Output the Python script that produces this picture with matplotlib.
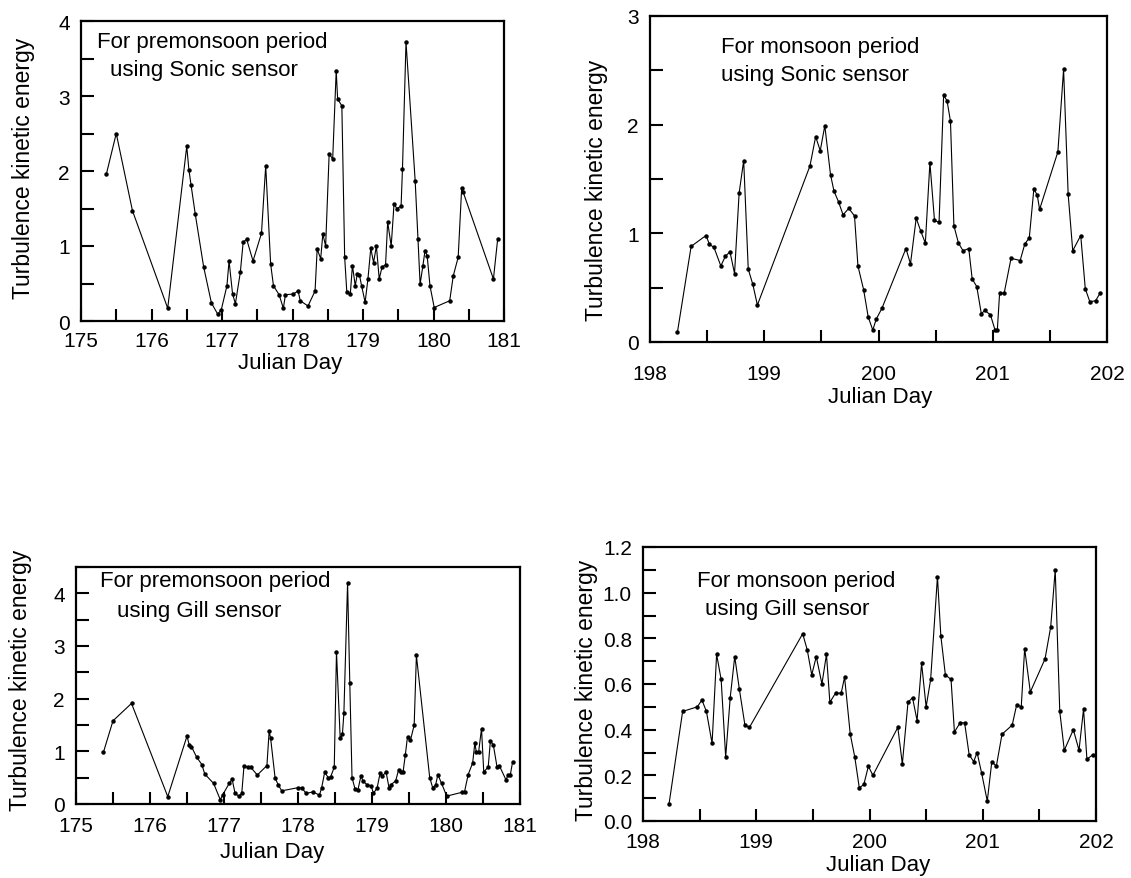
import matplotlib
matplotlib.use('Agg')
import matplotlib.pyplot as plt
from matplotlib.ticker import MultipleLocator, FormatStrFormatter

plt.rcParams['font.family'] = ['Liberation Sans', 'DejaVu Sans']

# premonsoon, Sonic sensor
pre_sonic_day = [175.36, 175.50, 175.73, 176.23, 176.50, 176.53, 176.56, 176.62, 176.74, 176.85,
                 176.94, 176.99, 177.07, 177.10, 177.15, 177.19, 177.26, 177.30, 177.35, 177.44,
                 177.56, 177.62, 177.69, 177.73, 177.81, 177.87, 177.90, 178.01, 178.08, 178.11,
                 178.22, 178.32, 178.35, 178.40, 178.43, 178.47, 178.52, 178.57, 178.62, 178.64,
                 178.70, 178.74, 178.77, 178.82, 178.85, 178.89, 178.92, 178.95, 178.98, 179.03,
                 179.07, 179.11, 179.15, 179.19, 179.23, 179.27, 179.32, 179.35, 179.40, 179.44,
                 179.48, 179.54, 179.56, 179.61, 179.74, 179.78, 179.81, 179.85, 179.88, 179.91,
                 179.95, 180.01, 180.23, 180.28, 180.35, 180.40, 180.42, 180.85, 180.91]
pre_sonic_tke = [1.96, 2.50, 1.47, 0.17, 2.33, 2.02, 1.82, 1.43, 0.72, 0.24,
                 0.09, 0.15, 0.47, 0.80, 0.36, 0.23, 0.65, 1.05, 1.09, 0.80,
                 1.17, 2.07, 0.76, 0.47, 0.35, 0.17, 0.35, 0.36, 0.40, 0.27,
                 0.20, 0.40, 0.96, 0.83, 1.16, 1.00, 2.23, 2.16, 3.34, 2.96,
                 2.87, 0.85, 0.39, 0.36, 0.74, 0.47, 0.63, 0.61, 0.47, 0.25,
                 0.56, 0.97, 0.78, 1.00, 0.56, 0.72, 0.75, 1.32, 1.00, 1.56,
                 1.50, 1.53, 2.03, 3.72, 1.87, 1.09, 0.49, 0.74, 0.94, 0.87,
                 0.47, 0.18, 0.27, 0.60, 0.85, 1.78, 1.72, 0.56, 1.09]

# monsoon, Sonic sensor
mon_sonic_day = [198.24, 198.36, 198.49, 198.52, 198.56, 198.62, 198.66, 198.70, 198.74, 198.78,
                 198.82, 198.86, 198.90, 198.94, 199.40, 199.45, 199.49, 199.53, 199.58, 199.61,
                 199.65, 199.69, 199.74, 199.79, 199.82, 199.87, 199.91, 199.95, 199.98, 200.03,
                 200.24, 200.28, 200.33, 200.37, 200.41, 200.45, 200.49, 200.53, 200.57, 200.60,
                 200.63, 200.66, 200.70, 200.74, 200.79, 200.82, 200.86, 200.90, 200.93, 200.98,
                 201.02, 201.04, 201.06, 201.10, 201.16, 201.24, 201.28, 201.32, 201.36, 201.39,
                 201.41, 201.57, 201.62, 201.66, 201.70, 201.77, 201.81, 201.85, 201.90, 201.94]
mon_sonic_tke = [0.09, 0.88, 0.98, 0.90, 0.87, 0.70, 0.79, 0.83, 0.63, 1.37,
                 1.67, 0.67, 0.53, 0.34, 1.62, 1.89, 1.76, 1.99, 1.54, 1.39,
                 1.29, 1.17, 1.23, 1.16, 0.70, 0.48, 0.23, 0.11, 0.21, 0.31,
                 0.86, 0.72, 1.14, 1.02, 0.91, 1.65, 1.12, 1.10, 2.27, 2.22,
                 2.03, 1.07, 0.91, 0.84, 0.86, 0.58, 0.51, 0.26, 0.29, 0.25,
                 0.11, 0.11, 0.45, 0.45, 0.77, 0.75, 0.90, 0.96, 1.41, 1.35,
                 1.22, 1.75, 2.51, 1.36, 0.84, 0.98, 0.49, 0.37, 0.38, 0.45]

# premonsoon, Gill sensor
pre_gill_day = [175.37, 175.50, 175.75, 176.24, 176.50, 176.53, 176.56, 176.63, 176.70, 176.74,
                176.86, 176.95, 176.98, 177.07, 177.11, 177.15, 177.20, 177.24, 177.27, 177.33,
                177.36, 177.45, 177.58, 177.61, 177.63, 177.69, 177.73, 177.78, 178.00, 178.05,
                178.11, 178.20, 178.29, 178.32, 178.36, 178.41, 178.44, 178.49, 178.52, 178.57,
                178.60, 178.62, 178.67, 178.70, 178.73, 178.77, 178.81, 178.85, 178.88, 178.93,
                178.99, 179.02, 179.07, 179.11, 179.14, 179.19, 179.23, 179.26, 179.32, 179.36,
                179.39, 179.42, 179.45, 179.48, 179.52, 179.57, 179.60, 179.78, 179.82, 179.86,
                179.89, 179.94, 180.01, 180.21, 180.25, 180.30, 180.36, 180.39, 180.41, 180.44,
                180.48, 180.51, 180.57, 180.60, 180.64, 180.69, 180.72, 180.81, 180.84, 180.87,
                180.90]
pre_gill_tke = [0.98, 1.58, 1.91, 0.14, 1.29, 1.12, 1.09, 0.89, 0.75, 0.57,
                0.39, 0.08, 0.17, 0.39, 0.47, 0.20, 0.15, 0.20, 0.72, 0.70,
                0.70, 0.55, 0.73, 1.38, 1.25, 0.50, 0.37, 0.25, 0.31, 0.31,
                0.20, 0.23, 0.17, 0.31, 0.60, 0.50, 0.51, 0.70, 2.89, 1.25,
                1.32, 1.72, 4.20, 2.29, 0.50, 0.29, 0.27, 0.53, 0.43, 0.37,
                0.34, 0.20, 0.31, 0.59, 0.53, 0.61, 0.31, 0.37, 0.44, 0.65,
                0.61, 0.61, 0.93, 1.28, 1.21, 1.50, 2.82, 0.50, 0.31, 0.36,
                0.56, 0.39, 0.15, 0.22, 0.23, 0.56, 0.78, 1.16, 0.98, 0.98,
                1.43, 0.61, 0.70, 1.20, 1.12, 0.70, 0.73, 0.46, 0.55, 0.56,
                0.80]

# monsoon, Gill sensor
mon_gill_day = [198.23, 198.35, 198.48, 198.52, 198.56, 198.61, 198.65, 198.69, 198.73, 198.77,
                198.81, 198.85, 198.90, 198.94, 199.41, 199.45, 199.49, 199.53, 199.58, 199.62,
                199.65, 199.70, 199.75, 199.78, 199.83, 199.87, 199.91, 199.95, 199.99, 200.03,
                200.25, 200.29, 200.34, 200.38, 200.42, 200.46, 200.50, 200.54, 200.60, 200.63,
                200.67, 200.72, 200.75, 200.80, 200.84, 200.88, 200.92, 200.95, 200.99, 201.04,
                201.08, 201.12, 201.17, 201.26, 201.30, 201.34, 201.37, 201.42, 201.55, 201.60,
                201.64, 201.68, 201.72, 201.80, 201.85, 201.89, 201.92, 201.97]
mon_gill_tke = [0.075, 0.48, 0.50, 0.53, 0.48, 0.34, 0.73, 0.62, 0.28, 0.54,
                0.72, 0.58, 0.42, 0.41, 0.82, 0.75, 0.64, 0.72, 0.60, 0.73,
                0.52, 0.56, 0.56, 0.63, 0.38, 0.28, 0.145, 0.16, 0.24, 0.20,
                0.41, 0.25, 0.52, 0.54, 0.44, 0.69, 0.50, 0.62, 1.07, 0.81,
                0.64, 0.62, 0.39, 0.43, 0.43, 0.29, 0.26, 0.30, 0.21, 0.087,
                0.26, 0.24, 0.38, 0.42, 0.51, 0.50, 0.755, 0.565, 0.71, 0.85,
                1.10, 0.48, 0.31, 0.40, 0.31, 0.49, 0.27, 0.29]

W, H = 1131, 879
fig = plt.figure(figsize=(W / 100, H / 100), dpi=100)

# layout of each panel, in pixels: axes box, x-tick pad, xlabel centre, ylabel centre
panels = [
    dict(box=(81, 22, 504, 322), x=pre_sonic_day, y=pre_sonic_tke, xlim=(175, 181), ylim=(0, 4),
         ymaj=1, ymin=0.5, fmt=None, xpad=7, xlab=(290, 363), ylab=(24, 168),
         notes=['For premonsoon period', 'using Sonic sensor'], note_px=[(97, 42), (110, 70)]),
    dict(box=(650, 17, 1107, 343), x=mon_sonic_day, y=mon_sonic_tke, xlim=(198, 202), ylim=(0, 3),
         ymaj=1, ymin=0.5, fmt=None, xpad=16, xlab=(880, 398), ylab=(596, 190),
         notes=['For monsoon period', 'using Sonic sensor'], note_px=[(721, 48), (721, 76)]),
    dict(box=(76, 568, 520, 805), x=pre_gill_day, y=pre_gill_tke, xlim=(175, 181), ylim=(0, 4.5),
         ymaj=1, ymin=0.5, fmt=None, xpad=9, xlab=(272, 853), ylab=(20, 680),
         notes=['For premonsoon period', 'using Gill sensor'], note_px=[(100, 582), (117, 611)]),
    dict(box=(643, 548, 1096, 822), x=mon_gill_day, y=mon_gill_tke, xlim=(198, 202), ylim=(0, 1.2),
         ymaj=0.2, ymin=0.1, fmt='%.1f', xpad=8, xlab=(878, 866), ylab=(586, 690),
         notes=['For monsoon period', 'using Gill sensor'], note_px=[(697, 582), (705, 610)]),
]

for p in panels:
    l, t, r, b = p['box']
    w, h = r - l, b - t
    ax = fig.add_axes([l / W, 1 - b / H, w / W, h / H])
    ax.plot(p['x'], p['y'], color='black', linewidth=0.8, marker='o', markersize=2.2)

    ax.set_xlim(*p['xlim'])
    ax.set_ylim(*p['ylim'])
    ax.xaxis.set_major_locator(MultipleLocator(1))
    ax.xaxis.set_minor_locator(MultipleLocator(0.5))
    ax.yaxis.set_major_locator(MultipleLocator(p['ymaj']))
    ax.yaxis.set_minor_locator(MultipleLocator(p['ymin']))
    if p['fmt']:
        ax.yaxis.set_major_formatter(FormatStrFormatter(p['fmt']))
    ax.tick_params(which='both', direction='in', length=9, width=1.5,
                   top=False, right=False, labelsize=15)
    ax.tick_params(axis='y', pad=8)
    ax.tick_params(axis='x', pad=p['xpad'])
    for s in ax.spines.values():
        s.set_linewidth(1.6)

    ax.set_xlabel('Julian Day', fontsize=16, va='center')
    ax.xaxis.set_label_coords((p['xlab'][0] - l) / w, (b - p['xlab'][1]) / h)
    ax.set_ylabel('Turbulence kinetic energy', fontsize=16.5, va='center')
    ax.yaxis.set_label_coords((p['ylab'][0] - l) / w, (b - p['ylab'][1]) / h)

    for txt, (tx, ty) in zip(p['notes'], p['note_px']):
        ax.text((tx - l) / w, (b - ty) / h, txt, transform=ax.transAxes,
                fontsize=16, va='center', ha='left')

fig.savefig('out.png', dpi=100)
